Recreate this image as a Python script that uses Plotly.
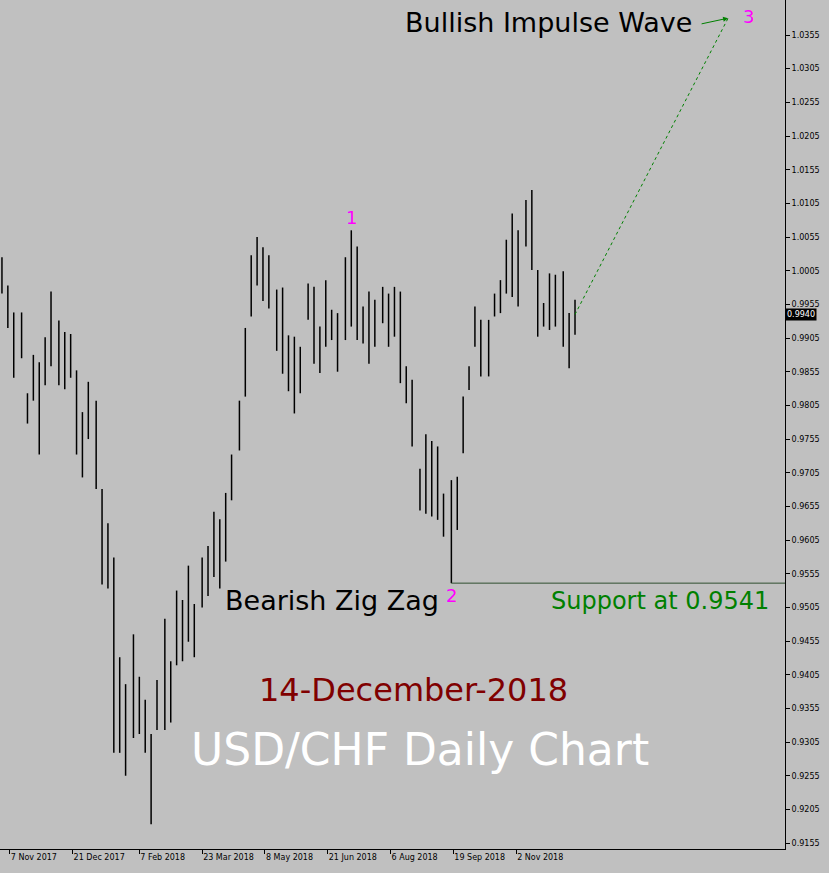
import pandas as pd
import plotly.graph_objects as go

# approx highs/lows, one bar per ~3 trading days
highs = [1.0025, 0.9983, 0.9943, 0.9943, 0.9823, 0.9880, 0.9869, 0.9906, 0.9974, 0.9931,
         0.9914, 0.9911, 0.9857, 0.9795, 0.9840, 0.9812, 0.9681, 0.9630, 0.9579, 0.9431,
         0.9391, 0.9465, 0.9402, 0.9368, 0.9317, 0.9397, 0.9488, 0.9425, 0.9530, 0.9516,
         0.9567, 0.9510, 0.9579, 0.9596, 0.9647, 0.9636, 0.9675, 0.9732, 0.9812, 0.9920,
         1.0028, 1.0055, 1.0040, 1.0028, 0.9977, 0.9980, 0.9909, 0.9907, 0.9892, 0.9986,
         0.9981, 0.9922, 0.9991, 0.9947, 0.9942, 1.0025, 1.0065, 1.0041, 0.9952, 0.9974,
         0.9962, 0.9981, 0.9971, 0.9981, 0.9974, 0.9863, 0.9843, 0.9711, 0.9762, 0.9752,
         0.9744, 0.9674, 0.9694, 0.9699, 0.9818, 0.9863, 0.9952, 0.9932, 0.9932, 0.9971,
         0.9991, 1.0051, 1.0090, 1.0065, 1.0110, 1.0125, 1.0006, 0.9957, 1.0001, 0.9999,
         1.0004, 0.9942, 0.9962]
lows = [0.9971, 0.9920, 0.9846, 0.9875, 0.9778, 0.9812, 0.9732, 0.9835, 0.9863, 0.9835,
        0.9829, 0.9846, 0.9732, 0.9698, 0.9755, 0.9681, 0.9539, 0.9533, 0.9289, 0.9289,
        0.9255, 0.9311, 0.9317, 0.9289, 0.9183, 0.9323, 0.9323, 0.9334, 0.9419, 0.9425,
        0.9454, 0.9431, 0.9505, 0.9522, 0.9550, 0.9533, 0.9573, 0.9664, 0.9738, 0.9818,
        0.9937, 0.9983, 0.9960, 0.9949, 0.9886, 0.9852, 0.9826, 0.9793, 0.9823, 0.9932,
        0.9867, 0.9853, 0.9892, 0.9902, 0.9855, 0.9902, 0.9922, 0.9902, 0.9897, 0.9867,
        0.9892, 0.9927, 0.9892, 0.9907, 0.9838, 0.9808, 0.9744, 0.9649, 0.9644, 0.9640,
        0.9635, 0.9610, 0.9541, 0.9620, 0.9734, 0.9828, 0.9892, 0.9848, 0.9848, 0.9937,
        0.9942, 0.9971, 0.9966, 0.9952, 1.0041, 1.0006, 0.9907, 0.9922, 0.9917, 0.9922,
        0.9892, 0.9860, 0.9910]
last_price = 0.9940
support = 0.9541
target = 1.0380

all_days = pd.bdate_range("2017-11-01", "2018-12-14")
n = len(highs)
dates = [all_days[round(i * (len(all_days) - 1) / (n - 1))] for i in range(n)]

tick_dates = ["2017-11-07", "2017-12-21", "2018-02-07", "2018-03-23", "2018-05-08",
              "2018-06-21", "2018-08-06", "2018-09-19", "2018-11-02"]
tick_text = ["7 Nov 2017", "21 Dec 2017", "7 Feb 2018", "23 Mar 2018", "8 May 2018",
             "21 Jun 2018", "6 Aug 2018", "19 Sep 2018", "2 Nov 2018"]
y_ticks = [round(0.9155 + 0.005 * i, 4) for i in range(25)]

bx, by = [], []
for d, h, l in zip(dates, highs, lows):
    bx += [d, d, None]
    by += [l, h, None]

low_i = 72
top_i = 56
start_date = pd.Timestamp("2017-10-31")
end_date = pd.Timestamp("2019-05-14")
target_date = pd.Timestamp("2019-04-03")

fig = go.Figure()
fig.add_trace(go.Scatter(x=bx, y=by, mode="lines", line=dict(color="black", width=1.5),
                         hoverinfo="skip"))
fig.add_trace(go.Scatter(x=[dates[low_i], end_date], y=[support, support], mode="lines",
                         line=dict(color="#2f4f2f", width=1)))
fig.add_trace(go.Scatter(x=[dates[-1], target_date], y=[last_price, target], mode="lines",
                         line=dict(color="green", width=1, dash="dot")))

font = "DejaVu Sans"
fig.add_annotation(x=target_date, y=target, ax=-28, ay=6, showarrow=True, arrowhead=2,
                   arrowcolor="green", arrowwidth=1, text="")
fig.add_annotation(x=target_date, y=target, xanchor="right", yanchor="middle", xshift=-34,
                   yshift=-4, text="Bullish Impulse Wave", showarrow=False,
                   font=dict(family=font, size=27, color="black"))
fig.add_annotation(x=target_date, y=target, xshift=20, yshift=2, text="3", showarrow=False,
                   font=dict(family=font, size=18, color="magenta"))
fig.add_annotation(x=dates[top_i], y=highs[top_i], yanchor="bottom", yshift=0, text="1",
                   showarrow=False, font=dict(family=font, size=18, color="magenta"))
fig.add_annotation(x=dates[low_i], y=support, yanchor="top", yshift=0, text="2",
                   showarrow=False, font=dict(family=font, size=18, color="magenta"))
fig.add_annotation(x=dates[low_i], y=support, yanchor="top", xanchor="right", xshift=-10,
                   text="Bearish Zig Zag", showarrow=False,
                   font=dict(family=font, size=27, color="black"))
fig.add_annotation(x=1, xref="paper", xanchor="right", xshift=-14, y=support, yanchor="top",
                   yshift=-2, text="Support at 0.9541", showarrow=False,
                   font=dict(family=font, size=24, color="green"))
fig.add_annotation(x=0.527, xref="paper", y=0.9382, text="14-December-2018", showarrow=False,
                   font=dict(family=font, size=32, color="#800000"))
fig.add_annotation(x=0.535, xref="paper", y=0.9294, text="USD/CHF Daily Chart", showarrow=False,
                   font=dict(family=font, size=44, color="white"))
fig.add_annotation(x=1, xref="paper", xanchor="left", y=last_price, text="0.9940",
                   showarrow=False, bgcolor="black", borderpad=1,
                   font=dict(family=font, size=8, color="white"))

fig.update_layout(
    width=829, height=873, showlegend=False,
    paper_bgcolor="#c0c0c0", plot_bgcolor="#c0c0c0",
    margin=dict(l=0, r=44, t=0, b=24),
    xaxis=dict(range=[start_date, end_date], automargin=False,
               rangebreaks=[dict(bounds=["sat", "mon"])],
               tickvals=tick_dates, ticktext=tick_text, ticklabelposition="outside right",
               showgrid=False, zeroline=False, showline=True, linecolor="black",
               ticks="outside", ticklen=4, tickcolor="black",
               tickfont=dict(family=font, size=8, color="black")),
    yaxis=dict(side="right", range=[0.91462, 1.0407], tickvals=y_ticks, tickformat=".4f",
               automargin=False,
               showgrid=False, zeroline=False, showline=True, linecolor="black",
               ticks="outside", ticklen=4, tickcolor="black",
               tickfont=dict(family=font, size=8, color="black")),
)

fig.write_html("out.html", config={"displayModeBar": False},
               post_script="document.body.style.margin='0';")
